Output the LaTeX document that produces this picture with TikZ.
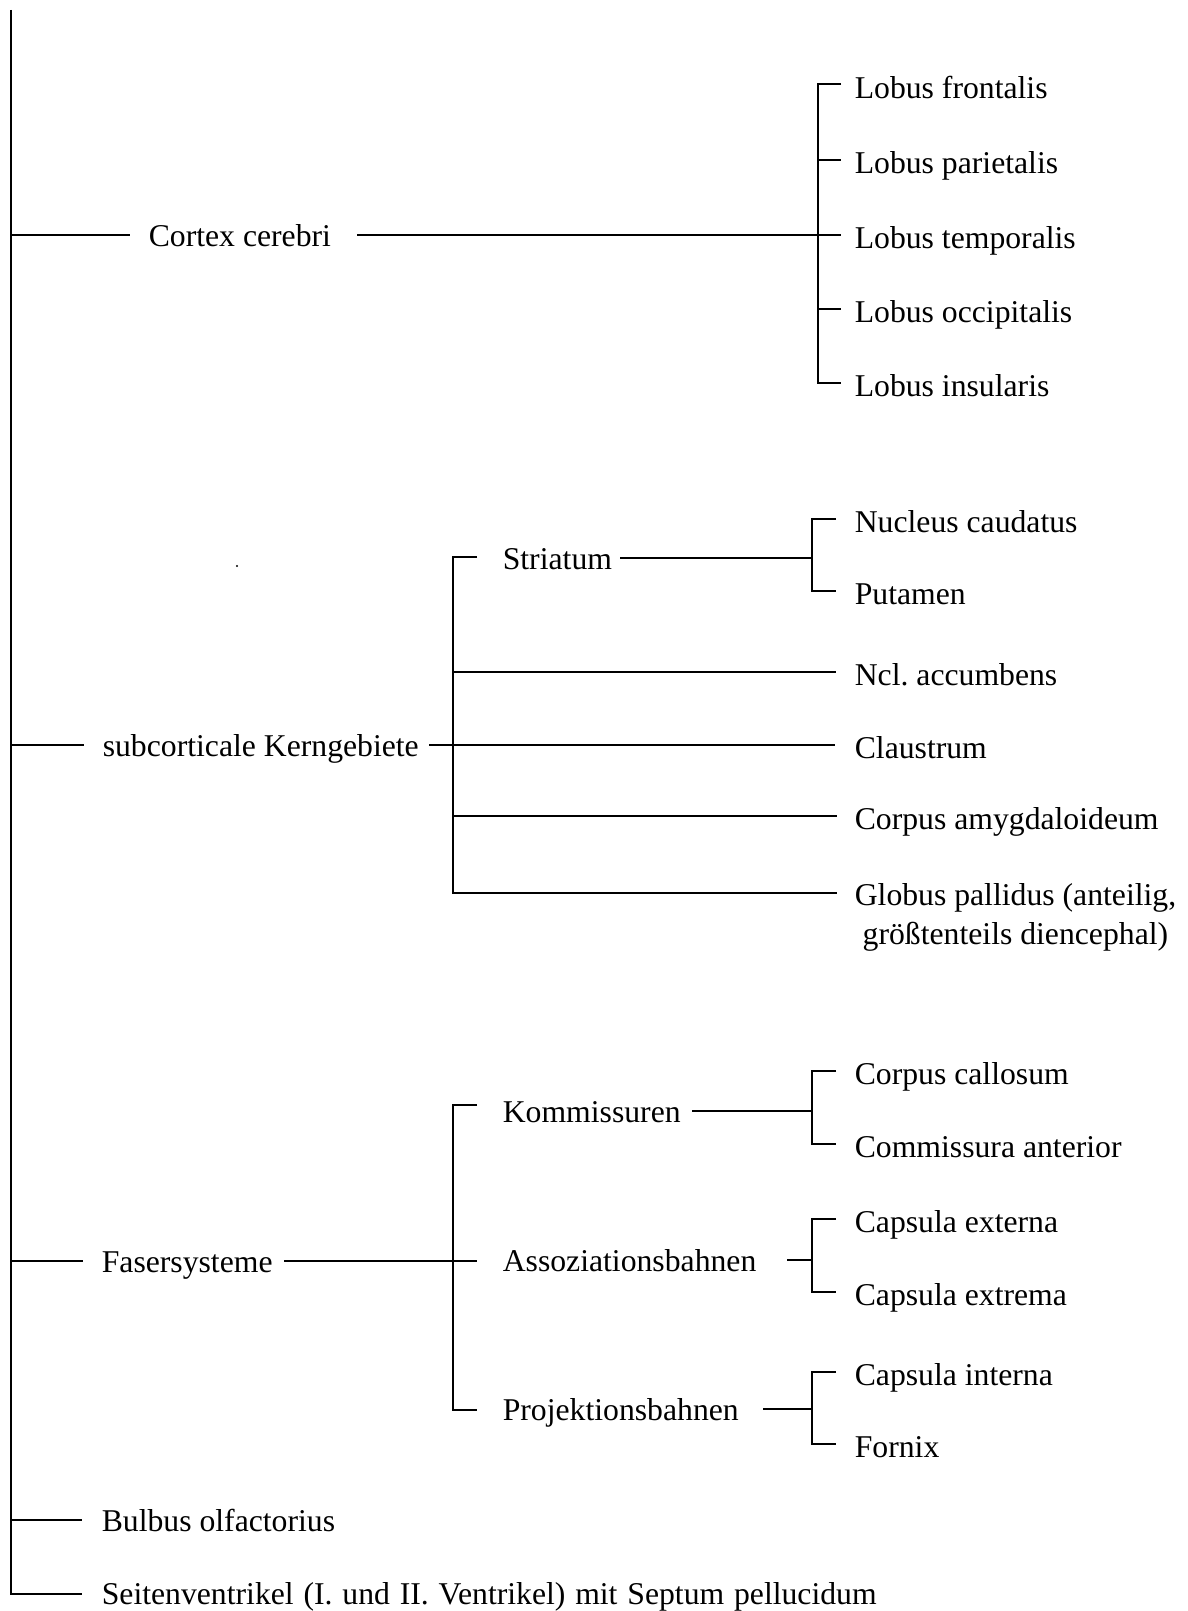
\documentclass[tikz,border=0pt]{standalone}
\usepackage{fontspec}
\setmainfont{Liberation Serif}
\frenchspacing
\begin{document}
\begin{tikzpicture}[x=0.5pt,y=-0.5pt,line width=0.8pt,
  lbl/.style={anchor=base west,inner sep=0pt,font=\fontsize{15.85pt}{18pt}\selectfont},
  link/.style={draw,black,line cap=butt,line join=miter}]
\useasboundingbox (0,0) rectangle (1188,1611);

% ---------- root spine ----------
\coordinate (rT) at (11,10);
\coordinate (rB) at (11,1594);

% ---------- level 1 labels ----------
\node[lbl] (cortex) at (148,246) {Cortex cerebri};
\node[lbl] (subc)   at (102,756) {subcorticale Kerngebiete};
\node[lbl] (faser)  at (101,1272) {Fasersysteme};
\node[lbl] (bulbus) at (101,1531) {Bulbus olfactorius};
\node[lbl] (seiten) at (101,1604) {\spaceskip=0.31em Seitenventrikel (I. und II. Ventrikel) mit Septum pellucidum};

% ---------- Lobus labels ----------
\node[lbl] (lfront) at (854,98)  {Lobus frontalis};
\node[lbl] (lpari)  at (854,173) {Lobus parietalis};
\node[lbl] (ltemp)  at (854,248) {Lobus temporalis};
\node[lbl] (locc)   at (854,322) {Lobus occipitalis};
\node[lbl] (lins)   at (854,396) {Lobus insularis};

% ---------- subcortical labels ----------
\node[lbl] (striat) at (502,569) {Striatum};
\node[lbl] (ncaud)  at (854,532) {Nucleus caudatus};
\node[lbl] (puta)   at (854,604) {Putamen};
\node[lbl] (nacc)   at (854,685) {Ncl. accumbens};
\node[lbl] (claus)  at (854,758) {Claustrum};
\node[lbl] (amyg)   at (854,829) {Corpus amygdaloideum};
\node[lbl] (glob)   at (854,905) {Globus pallidus (anteilig,};
\node[lbl] (globb)  at (854,944) {\hspace*{0.25em}größtenteils diencephal)};

% ---------- fibre system labels ----------
\node[lbl] (komm)  at (502,1122) {Kommissuren};
\node[lbl] (assoz) at (502,1271) {Assoziationsbahnen};
\node[lbl] (proj)  at (502,1420) {Projektionsbahnen};
\node[lbl] (ccall) at (854,1084) {Corpus callosum};
\node[lbl] (cant)  at (854,1157) {Commissura anterior};
\node[lbl] (cext)  at (854,1232) {Capsula externa};
\node[lbl] (cextr) at (854,1305) {Capsula extrema};
\node[lbl] (cint)  at (854,1385) {Capsula interna};
\node[lbl] (forn)  at (854,1457) {Fornix};

% ---------- coordinates ----------
% root branches
\coordinate (cL1) at (11,235);   \coordinate (cL2) at (130,235);
\coordinate (sL1) at (11,745);   \coordinate (sL2) at (84,745);
\coordinate (fL1) at (11,1261);  \coordinate (fL2) at (83,1261);
\coordinate (bL1) at (11,1520);  \coordinate (bL2) at (82,1520);
\coordinate (vL2) at (82,1594);
% cortex -> lobus bracket
\coordinate (cR1) at (357,235);
\coordinate (lbT) at (818,84);   \coordinate (lbB) at (818,383);
\coordinate (lt1) at (841,84);   \coordinate (lt2) at (841,160);
\coordinate (lb2) at (818,160);  \coordinate (lt3) at (841,235);
\coordinate (lb4) at (818,309);  \coordinate (lt4) at (841,309);
\coordinate (lt5) at (841,383);
% subcortical bracket
\coordinate (sR1) at (429,745);  \coordinate (sClau) at (835,745);
\coordinate (sbT) at (453,557);  \coordinate (sbB) at (453,893);
\coordinate (sStT) at (477,557);
\coordinate (sb2) at (453,672);  \coordinate (sAcc) at (836,672);
\coordinate (sb4) at (453,816);  \coordinate (sAmy) at (837,816);
\coordinate (sGlo) at (837,893);
% striatum sub-bracket
\coordinate (stR1) at (620,558); \coordinate (stJ) at (812,558);
\coordinate (stT) at (812,519);  \coordinate (stB) at (812,591);
\coordinate (stT2) at (836,519); \coordinate (stB2) at (836,591);
% fibre bracket
\coordinate (fR1) at (284,1261); \coordinate (fAs) at (477,1261);
\coordinate (fbT) at (453,1105); \coordinate (fbB) at (453,1410);
\coordinate (fKo) at (477,1105); \coordinate (fPr) at (477,1410);
% kommissuren sub-bracket
\coordinate (kR1) at (692,1111); \coordinate (kJ) at (812,1111);
\coordinate (kT) at (812,1071);  \coordinate (kB) at (812,1144);
\coordinate (kT2) at (836,1071); \coordinate (kB2) at (836,1144);
% assoziations sub-bracket
\coordinate (aR1) at (787,1260); \coordinate (aJ) at (812,1260);
\coordinate (aT) at (812,1219);  \coordinate (aB) at (812,1292);
\coordinate (aT2) at (836,1219); \coordinate (aB2) at (836,1292);
% projektions sub-bracket
\coordinate (pR1) at (763,1409); \coordinate (pJ) at (812,1409);
\coordinate (pT) at (812,1372);  \coordinate (pB) at (812,1444);
\coordinate (pT2) at (836,1372); \coordinate (pB2) at (836,1444);

% ---------- connectors ----------
\path[link] (rT) -- (rB) -- (vL2);
\path[link] (cL1) -- (cL2);
\path[link] (sL1) -- (sL2);
\path[link] (fL1) -- (fL2);
\path[link] (bL1) -- (bL2);

\path[link] (cR1) -- (lt3);
\path[link] (lt1) -- (lbT) -- (lbB) -- (lt5);
\path[link] (lb2) -- (lt2);
\path[link] (lb4) -- (lt4);

\path[link] (sR1) -- (sClau);
\path[link] (sStT) -- (sbT) -- (sbB) -- (sGlo);
\path[link] (sb2) -- (sAcc);
\path[link] (sb4) -- (sAmy);
\path[link] (stR1) -- (stJ);
\path[link] (stT2) -- (stT) -- (stB) -- (stB2);

\path[link] (fR1) -- (fAs);
\path[link] (fKo) -- (fbT) -- (fbB) -- (fPr);
\path[link] (kR1) -- (kJ);
\path[link] (kT2) -- (kT) -- (kB) -- (kB2);
\path[link] (aR1) -- (aJ);
\path[link] (aT2) -- (aT) -- (aB) -- (aB2);
\path[link] (pR1) -- (pJ);
\path[link] (pT2) -- (pT) -- (pB) -- (pB2);

% stray dot in the original
\fill (237,566) circle[radius=1.2];
\end{tikzpicture}
\end{document}
